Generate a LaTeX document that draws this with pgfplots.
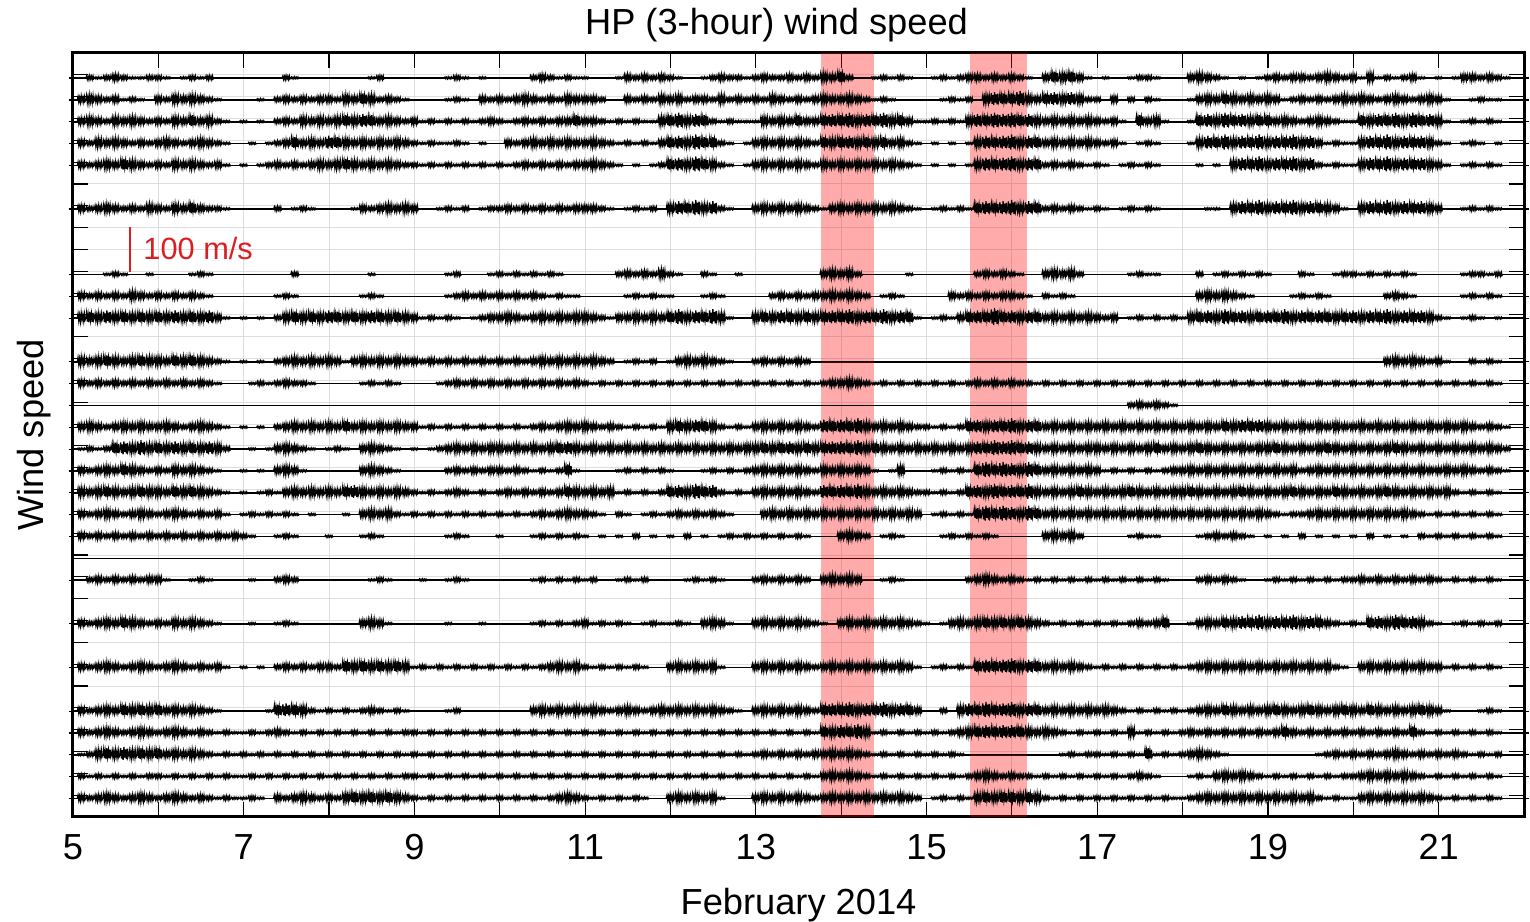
\documentclass[border=0pt]{standalone}
\usepackage{fontspec}
\setmainfont{Liberation Sans}
\usepackage{pgfplots}
\usepackage{pgfplotstable}
\pgfplotsset{compat=1.18}
\usetikzlibrary{calc}
\definecolor{scalered}{RGB}{218,30,36}
\definecolor{gridgray}{RGB}{222,222,222}

% burst amplitude of each trace, one value every 0.1 day from 5.0 to 22.0
\pgfplotstableread[header=false]{
r1 0 0 2 1 2 3 2 1 1 2  2 1 0 1 2 1 2 0 0 0  0 0 0 0 0 2 1 0 0 0  0 0 0 0 0 1 2 0 0 0  0 0 0 0 1 2 1 0 1 0  0 0 0 0 2 3 2 1 2 1  1 0 0 0 1 3 2 3 2 3  2 1 0 0 1 2 3 2 2 1  2 3 2 2 3 2 3 2 4 3  5 2 0 0 1 2 1 2 1 0  0 1 2 1 2 3 3 2 3 2  3 2 1 0 3 5 4 5 3 1  0 1 0 0 1 2 2 1 0 0  0 3 4 3 2 1 0 1 0 1  2 3 2 3 3 2 3 4 3 2  3 1 4 1 2 1 2 3 1 0  1 0 1 3 3 2 3 2 1 0  0
r2 0 3 4 3 2 3 1 2 1 0  3 2 4 3 4 3 2 1 0 0  0 0 1 0 2 3 2 3 2 3  3 2 4 3 5 4 2 3 2 1  0 0 0 0 1 2 1 0 3 2  3 2 3 4 3 2 3 2 4 3  3 3 2 0 0 3 2 3 2 4  3 4 2 3 3 2 4 2 3 2  3 2 4 3 2 3 2 3 4 3  3 4 3 2 1 2 1 0 0 0  0 0 1 2 1 2 0 4 6 5  5 7 4 3 5 6 4 6 4 2  2 0 3 0 2 0 2 1 0 0  0 1 3 4 3 5 4 3 4 3  4 3 1 2 3 2 3 2 3 4  3 4 3 2 3 4 3 2 3 4  3 1 0 0 1 2 1 1 0 0  0
r3 0 3 4 3 2 4 3 4 3 2  3 2 4 3 5 3 4 2 1 0  1 0 1 0 2 3 2 4 3 4  3 4 5 4 6 5 3 4 3 2  3 1 2 1 2 1 2 1 2 3  2 1 2 3 2 3 2 3 3 5  3 3 2 1 2 1 2 1 1 4  5 7 4 6 5 2 1 2 1 1  1 4 3 4 3 5 3 3 5 6  5 7 4 6 5 7 4 5 3 1  1 2 1 2 1 4 6 5 7 6  7 5 6 4 3 4 3 4 3 4  3 2 3 1 0 5 3 4 1 0  0 1 5 6 4 7 5 6 4 5  5 3 4 3 2 3 4 3 2 1  1 5 4 6 5 7 4 7 5 6  4 1 0 1 2 1 2 1 0 0  0
r4 0 3 2 4 3 4 3 2 3 2  3 4 3 2 3 4 3 2 1 0  0 1 0 1 2 3 5 3 4 3  6 5 4 3 4 3 4 3 4 3  2 1 2 1 1 2 1 0 1 0  0 3 2 3 4 3 4 3 4 3  3 4 3 2 1 2 1 2 1 3  5 6 4 7 5 5 2 1 0 1  3 4 3 4 3 4 3 2 5 4  5 6 4 5 4 5 3 4 2 1  0 1 0 1 0 1 4 6 5 6  7 4 6 5 3 4 3 4 3 4  3 2 3 1 0 1 2 1 0 0  0 1 4 6 5 7 4 6 5 7  4 6 5 7 4 6 3 1 2 1  1 4 6 5 7 4 6 5 6 4  2 1 0 1 2 1 0 1 0 0  0
r5 0 3 2 3 4 3 5 4 3 2  3 2 4 3 4 3 2 3 1 0  1 0 1 2 3 2 3 2 3 4  3 4 5 4 3 4 3 4 3 2  2 1 2 1 2 1 2 1 2 1  2 1 2 3 2 3 2 3 2 3  3 4 3 2 1 0 1 0 1 2  5 6 4 7 5 4 2 1 0 1  3 4 3 4 3 4 3 2 4 3  4 3 4 3 4 3 4 3 2 1  0 1 0 1 0 1 4 6 5 6  7 4 6 5 2 3 2 3 2 1  2 1 0 1 2 1 2 1 0 0  0 0 1 0 1 0 4 6 5 7  4 6 5 7 4 6 2 1 2 1  1 4 6 5 7 4 6 5 6 4  3 1 0 1 2 1 2 1 0 0  0
r7 0 3 2 3 4 3 2 3 2 4  3 2 4 3 5 3 2 2 1 0  0 0 0 0 2 0 1 2 1 0  0 0 0 1 3 2 3 4 3 4  3 0 0 1 2 1 2 0 1 2  2 3 2 3 2 3 2 3 2 3  3 3 2 1 0 1 2 1 2 0  4 6 5 7 4 6 2 1 0 0  3 4 3 4 3 4 3 2 1 3  4 3 4 3 4 3 4 3 2 1  0 1 2 1 2 1 5 6 5 6  7 4 6 5 2 3 2 3 2 1  2 1 0 1 2 1 2 1 0 0  0 0 0 1 1 0 4 6 5 7  4 6 5 7 4 6 5 4 3 1  0 4 6 5 7 4 6 5 6 4  3 0 0 1 2 1 2 1 0 0  0
r10 0 0 0 0 1 2 1 0 0 1  0 0 0 0 1 2 1 0 0 0  0 0 0 0 0 0 2 0 0 0  0 0 0 0 0 1 0 0 0 0  0 0 0 0 1 2 0 0 0 1  2 1 2 1 2 1 2 1 0 0  0 0 0 0 2 3 2 3 2 4  2 1 0 0 2 1 0 0 1 0  0 0 0 0 0 0 0 0 3 4  3 4 2 0 0 0 0 0 1 0  0 0 0 0 0 0 2 3 2 3  2 1 0 0 3 4 3 4 2 0  0 0 0 0 1 2 1 1 0 0  0 0 2 0 1 2 1 2 1 2  1 0 0 0 2 1 0 0 1 2  2 1 2 1 2 1 2 1 0 0  0 0 0 1 2 2 1 2 0 0  0
r11 0 3 2 3 2 3 2 4 3 2  3 2 3 2 3 2 1 0 0 0  0 0 0 0 1 2 1 0 0 0  0 0 0 0 1 2 1 0 0 0  0 0 0 0 1 2 3 2 3 2  3 2 3 2 3 2 1 2 1 1  0 0 0 0 0 1 2 1 2 1  1 0 0 0 1 2 1 0 0 0  0 0 2 3 2 3 2 3 3 4  3 4 3 2 0 1 2 1 0 0  0 0 0 3 2 3 2 3 2 3  3 2 1 0 2 1 2 1 0 0  0 0 0 0 0 0 0 0 0 0  0 0 3 4 3 4 3 2 1 0  0 0 0 1 2 1 2 1 0 0  0 0 0 0 2 3 2 1 0 0  0 0 0 1 2 1 2 1 0 0  0
r12 0 4 5 4 6 4 5 4 5 4  5 4 6 4 5 4 6 3 1 0  1 0 1 0 2 4 5 4 5 4  6 5 4 5 4 6 5 4 5 4  3 1 2 1 2 1 0 1 2 3  3 4 3 2 3 4 3 4 3 4  4 3 2 1 3 3 4 3 4 3  5 7 4 6 5 7 4 1 0 0  4 5 4 6 5 4 5 4 5 6  5 7 4 6 5 7 4 6 5 1  0 1 2 1 3 5 6 5 8 5  6 4 6 5 3 4 3 4 3 4  3 2 3 0 1 2 1 2 1 2  1 4 5 6 4 7 5 6 4 5  6 5 7 4 6 5 6 5 4 5  6 4 6 5 7 4 6 5 6 4  2 1 0 1 2 1 0 1 0 0  0
r14 0 4 3 4 5 4 3 4 5 4  4 3 5 4 5 4 3 2 1 0  1 0 1 0 2 3 4 3 4 3  4 3 1 3 4 3 4 3 4 3  3 2 3 2 3 2 3 2 3 2  3 2 3 2 3 4 3 4 3 4  3 4 3 2 0 1 2 1 2 0  1 3 4 3 4 3 2 1 0 0  2 3 2 3 2 3 2 0 0 0  0 0 0 0 0 0 0 0 0 0  0 0 0 0 0 0 0 0 0 0  0 0 0 0 0 0 0 0 0 0  0 0 0 0 0 0 0 0 0 0  0 0 0 0 0 0 0 0 0 0  0 0 0 0 0 0 0 0 0 0  0 0 0 0 3 4 3 4 3 2  3 1 0 0 2 1 2 1 0 0  0
r15 0 3 2 3 2 3 2 3 2 3  2 3 2 3 2 3 2 1 0 0  0 1 2 1 2 3 2 2 1 0  0 0 0 0 1 2 1 2 1 0  0 0 0 1 2 3 2 3 2 3  2 3 2 3 2 3 2 3 2 3  2 1 2 1 2 1 2 1 2 1  2 1 2 1 2 1 2 1 2 1  2 1 2 1 2 1 2 1 2 3  3 4 3 2 1 2 1 2 1 2  1 2 1 2 1 2 3 2 3 2  3 2 2 1 2 1 2 1 2 1  2 1 2 1 2 1 2 1 2 1  2 1 2 1 2 1 2 1 2 1  2 1 2 1 2 1 2 1 2 1  2 1 2 1 2 1 2 1 2 1  2 1 2 1 2 1 2 1 0 0  0
r16 0 0 0 0 0 0 0 0 0 0  0 0 0 0 0 0 0 0 0 0  0 0 0 0 0 0 0 0 0 0  0 0 0 0 0 0 0 0 0 0  0 0 0 0 0 0 0 0 0 0  0 0 0 0 0 0 0 0 0 0  0 0 0 0 0 0 0 0 0 0  0 0 0 0 0 0 0 0 0 0  0 0 0 0 0 0 0 0 0 0  0 0 0 0 0 0 0 0 0 0  0 0 0 0 0 0 0 0 0 0  0 0 0 0 0 0 0 0 0 0  0 0 0 0 2 3 2 3 2 1  0 0 0 0 0 0 0 0 0 0  0 0 0 0 0 0 0 0 0 0  0 0 0 0 0 0 0 0 0 0  0 0 0 0 0 0 0 0 0 0  0
r17 0 3 4 3 2 3 4 3 4 3  3 4 3 2 3 4 3 2 1 0  1 0 1 0 2 3 4 3 4 3  4 3 5 3 4 3 4 3 4 3  3 1 2 1 2 1 2 1 2 1  2 1 2 1 2 3 2 3 4 3  4 3 2 3 2 1 2 1 2 1  4 5 4 6 5 4 2 1 2 1  3 4 3 4 3 4 3 2 6 5  6 5 7 4 3 4 3 4 3 2  2 1 2 1 2 5 6 4 6 5  7 4 6 5 3 4 3 4 3 4  3 4 3 4 3 4 3 4 3 4  3 4 3 4 3 5 4 6 5 6  4 3 4 3 4 3 4 3 4 3  3 4 3 4 3 4 3 4 3 4  3 4 3 4 3 2 3 2 1 0  0
r18 0 1 2 1 2 5 6 4 7 4  5 4 6 4 5 4 6 4 2 0  0 1 0 1 3 4 3 2 1 0  1 2 1 0 3 4 3 2 1 0  1 0 1 2 3 4 3 4 3 4  4 3 4 3 4 3 4 5 6 4  3 4 3 4 3 4 3 4 3 4  3 4 3 4 3 4 3 4 3 4  4 5 4 5 6 4 5 4 5 6  6 5 7 4 5 4 3 4 3 4  3 4 3 4 3 4 6 5 7 6  7 5 6 4 3 4 3 4 3 4  4 3 4 3 4 3 4 5 3 4  3 4 5 4 3 4 3 4 3 4  4 5 4 3 4 3 4 5 4 3  4 3 4 3 4 5 4 3 4 3  4 3 4 3 4 3 4 3 2 0  0
r19 0 3 2 3 4 3 5 4 3 2  3 2 4 3 4 3 2 1 0 0  1 0 1 0 3 4 3 1 0 0  0 0 0 0 3 4 3 2 1 0  0 0 0 0 2 3 2 3 2 3  3 2 3 2 1 2 1 2 5 1  0 0 0 0 1 2 1 2 1 2  1 0 0 0 1 2 1 2 1 2  3 4 3 4 3 4 3 2 4 3  4 3 4 3 1 0 1 4 0 0  0 1 2 1 2 1 5 7 5 7  6 4 7 5 3 4 3 4 3 4  3 1 2 1 2 1 2 1 2 3  3 4 3 4 3 4 3 4 3 4  3 4 3 4 2 3 4 3 4 3  4 3 4 3 4 3 4 3 4 3  3 4 3 4 3 2 3 2 1 0  0
r20 0 4 3 4 5 4 3 4 5 4  4 3 5 4 5 4 3 2 1 0  1 0 1 2 1 3 4 3 4 3  4 3 5 6 4 3 4 3 4 3  2 1 2 1 2 3 2 1 2 1  2 3 2 3 2 3 2 3 5 4  3 4 3 4 1 2 1 2 1 2  5 6 4 7 5 6 2 1 2 1  3 4 3 4 3 4 3 2 6 5  6 5 7 4 3 4 3 4 3 2  2 1 2 1 2 5 6 4 7 5  6 5 7 4 3 4 3 4 5 4  3 4 3 4 5 4 3 4 3 4  4 5 4 3 4 3 4 5 4 3  4 3 4 5 4 3 4 3 5 4  3 4 3 4 5 4 3 4 3 4  3 4 2 1 2 1 2 1 0 0  0
r21 0 3 2 3 4 3 2 3 4 3  2 3 4 3 2 3 2 3 1 0  1 2 1 2 1 2 1 0 1 0  0 0 1 0 3 4 3 4 2 1  2 1 2 1 2 1 2 1 2 1  2 1 2 1 2 3 2 3 4 3  3 2 1 0 2 1 0 1 2 1  2 3 2 3 2 3 2 1 0 0  0 3 4 3 4 3 4 3 4 3  4 3 4 3 4 3 4 3 4 3  0 1 2 1 2 1 5 7 5 7  6 4 7 5 3 4 3 4 3 4  3 4 3 4 3 4 3 4 3 4  3 4 3 4 3 4 3 4 3 4  3 2 1 2 2 3 4 3 4 3  4 3 4 3 4 3 4 3 2 1  2 1 2 1 2 1 2 1 0 0  0
r22 0 3 2 3 2 3 2 3 2 3  2 3 2 3 2 3 2 3 2 3  2 1 0 0 1 2 1 0 0 0  1 0 0 0 1 2 1 0 0 0  0 0 0 0 1 2 1 0 0 0  1 0 0 0 1 2 1 2 1 2  1 0 1 0 1 0 2 0 1 0  1 0 2 0 1 0 1 2 1 2  1 2 1 2 1 2 1 0 0 0  3 4 3 2 0 1 2 1 0 0  0 0 1 2 1 2 1 2 1 0  0 0 0 0 3 4 3 4 2 0  0 0 0 0 1 2 1 1 0 0  0 0 1 2 3 2 3 2 1 0  1 0 1 0 2 0 1 0 1 0  1 0 2 0 1 0 1 0 2 1  2 1 2 1 2 1 2 1 0 0  0
r24 0 0 2 3 2 3 2 3 2 3  3 1 0 0 1 2 1 0 0 0  0 1 0 0 2 3 2 0 0 0  0 0 0 0 0 1 2 1 0 0  0 1 0 0 1 2 1 0 0 0  0 0 0 0 1 2 1 2 1 2  1 2 0 0 1 2 1 2 0 0  0 0 1 2 1 2 1 0 0 0  2 3 2 3 2 3 2 0 3 4  3 4 3 0 0 1 2 1 0 0  0 0 0 0 0 2 3 4 3 2  3 2 1 2 1 2 1 2 1 2  1 2 1 2 1 2 1 2 1 0  0 0 2 3 2 3 2 1 0 0  1 2 1 2 1 2 1 2 1 2  2 3 2 3 2 3 2 3 2 3  2 1 2 1 2 1 2 1 0 0  0
r26 0 3 2 3 4 3 5 4 3 2  3 2 4 3 4 3 2 1 0 0  0 1 0 0 1 2 1 0 0 0  0 0 0 0 3 4 3 1 0 0  0 0 0 0 1 0 0 0 1 0  0 0 0 0 1 2 1 2 1 2  3 1 2 1 2 1 0 1 2 1  1 2 1 0 3 4 3 1 0 0  3 4 3 4 3 4 3 2 1 0  3 4 3 4 3 4 3 4 3 2  1 0 1 3 4 3 4 5 4 5  4 5 4 3 2 1 2 1 2 1  2 1 2 1 2 3 2 3 5 0  0 1 3 4 3 5 4 6 5 7  4 6 5 7 4 6 5 3 2 1  2 1 5 6 4 7 5 6 4 2  1 0 1 2 1 2 1 2 0 0  0
r28 0 3 2 3 4 3 2 3 4 3  2 3 4 3 2 3 2 3 1 0  1 0 1 0 2 3 2 3 2 3  3 2 5 4 5 4 5 4 5 4  1 2 1 2 1 2 1 2 1 2  1 2 1 2 1 2 3 4 3 4  2 1 2 1 2 1 2 1 0 0  3 4 3 4 3 4 1 0 0 0  3 4 3 4 3 4 3 2 3 4  3 4 3 4 3 4 3 4 3 1  0 1 2 1 2 1 5 6 5 6  7 4 6 5 3 4 3 4 3 2  1 2 1 2 1 2 1 2 1 2  1 2 3 4 3 4 3 4 3 4  3 4 3 4 3 4 3 4 2 1  0 3 4 3 4 3 4 3 4 3  3 1 2 1 2 1 2 1 0 0  0
r30 0 3 2 3 4 3 5 4 5 4  5 3 4 3 4 3 2 1 0 0  0 0 0 1 5 6 5 4 2 1  2 1 2 1 2 3 2 1 2 1  0 0 0 0 1 2 0 0 0 0  0 0 0 0 3 4 3 4 3 4  3 4 3 2 3 4 3 2 3 4  3 4 3 4 3 4 3 2 1 0  3 4 3 4 3 4 3 2 5 6  5 7 4 6 5 7 4 6 5 3  0 0 2 0 4 6 5 7 5 6  7 4 6 5 3 4 3 4 3 4  3 4 3 2 1 2 1 2 1 2  1 2 3 4 3 5 4 3 4 3  4 5 4 3 4 5 4 3 4 5  4 3 5 4 3 4 3 4 5 4  3 1 0 0 0 1 2 1 0 0  0
r31 0 3 2 3 4 3 2 3 4 3  2 3 4 3 2 3 2 1 2 1  1 2 1 2 3 2 1 2 1 2  1 2 1 2 1 2 1 2 1 2  2 1 2 1 2 1 2 1 2 1  2 1 2 1 2 1 2 1 2 1  2 1 2 1 2 1 2 1 2 1  2 1 2 1 2 1 2 1 2 1  2 1 2 1 2 1 2 1 5 4  6 5 7 4 1 2 1 2 1 2  1 2 1 2 3 4 5 6 5 6  6 5 4 3 4 3 2 1 2 1  2 1 2 1 4 1 2 1 2 1  2 3 2 3 2 3 2 3 2 3  2 3 5 3 2 3 2 3 2 3  2 3 2 3 2 3 2 5 2 1  2 1 2 1 2 1 2 1 0 0  0
r32 0 1 2 4 5 4 6 4 5 4  5 3 4 3 4 3 2 1 2 1  2 1 2 1 2 1 2 1 2 1  2 1 2 1 2 1 2 1 2 1  2 1 2 1 2 1 2 1 2 1  2 1 2 1 2 1 2 1 2 1  2 1 2 1 2 1 2 1 2 1  2 1 2 1 2 1 2 1 2 1  2 3 2 3 2 3 2 3 3 4  3 4 3 2 1 2 1 2 1 2  1 2 1 2 1 0 0 0 0 0  0 0 0 0 0 0 1 2 1 2  2 1 2 1 2 1 5 1 2 1  2 3 4 3 2 1 0 0 0 0  0 0 0 0 0 0 1 2 3 2  3 2 3 2 3 4 3 2 3 2  3 2 3 2 1 2 1 2 0 0  0
r33 0 2 1 2 1 2 1 2 1 2  2 1 2 1 2 1 2 1 2 1  1 2 1 2 1 2 1 2 1 2  1 2 1 2 1 2 1 2 1 2  2 1 2 1 2 1 2 1 2 1  2 1 2 1 2 1 2 1 2 1  2 1 2 1 2 1 2 1 2 1  2 1 2 1 2 1 2 1 2 1  2 1 2 1 2 1 2 1 3 4  3 4 3 2 1 2 1 2 1 2  1 2 1 2 1 2 3 4 3 2  3 2 2 1 2 1 2 1 2 1  2 1 2 1 2 3 2 1 0 0  0 1 2 1 3 4 3 4 3 2  1 2 1 2 1 2 1 2 1 2  2 3 4 3 4 3 4 3 2 1  2 1 2 1 2 1 2 1 0 0  0
r34 0 3 2 3 4 3 2 3 4 3  2 3 4 3 2 3 2 1 2 1  1 2 1 0 3 2 3 4 3 2  3 2 4 5 4 5 4 5 4 3  2 1 2 1 2 1 2 1 2 1  2 1 2 1 2 1 2 3 4 3  2 1 2 1 2 1 2 1 0 0  3 4 3 4 3 4 1 0 0 0  3 4 3 4 3 4 3 2 3 4  3 4 3 4 3 4 3 4 3 2  0 1 2 1 2 1 4 5 4 5  5 4 5 4 2 1 2 1 2 1  2 1 2 1 2 1 2 1 2 1  1 2 3 4 3 4 3 4 3 4  3 4 3 4 3 4 2 1 2 1  1 3 4 3 4 3 4 3 4 3  2 1 2 1 2 1 2 1 0 0  0
}\raw
\pgfplotstabletranspose[colnames from=0]{\wind}{\raw}

% a short burst of wiggles, one bin (0.1 day) wide, its height set by the bin's amplitude
\pgfdeclareplotmark{burst}{%
  \pgfpathmoveto{\pgfqpoint{-1.707pt}{0pt}}%
  \pgfpathlineto{\pgfqpoint{-1.40pt}{0.85\pgfplotmarksize}}%
  \pgfpathlineto{\pgfqpoint{-1.10pt}{-0.50\pgfplotmarksize}}%
  \pgfpathlineto{\pgfqpoint{-0.78pt}{0.60\pgfplotmarksize}}%
  \pgfpathlineto{\pgfqpoint{-0.45pt}{-0.65\pgfplotmarksize}}%
  \pgfpathlineto{\pgfqpoint{-0.12pt}{1.00\pgfplotmarksize}}%
  \pgfpathlineto{\pgfqpoint{0.22pt}{-0.35\pgfplotmarksize}}%
  \pgfpathlineto{\pgfqpoint{0.55pt}{0.70\pgfplotmarksize}}%
  \pgfpathlineto{\pgfqpoint{0.88pt}{-0.55\pgfplotmarksize}}%
  \pgfpathlineto{\pgfqpoint{1.20pt}{0.80\pgfplotmarksize}}%
  \pgfpathlineto{\pgfqpoint{1.45pt}{-0.30\pgfplotmarksize}}%
  \pgfpathlineto{\pgfqpoint{1.707pt}{0pt}}%
  \pgfusepathqstroke
}

\newcommand{\trace}[2]{%
  \addplot[black, line width=0.6pt, scatter, mark=burst,
    scatter/use mapped color={draw=black},
    mark options={line width=0.5pt, solid},
    visualization depends on={0.52*\thisrow{#1} \as \amp},
    scatter/@pre marker code/.append style={/tikz/mark size=\amp}]
    table[x expr={5+0.1*\coordindex}, y expr={#2}] {\wind};
}

\begin{document}
\begin{tikzpicture}
\begin{axis}[
  name=ax,
  width=580.4pt, height=305.6pt, scale only axis,
  xmin=5, xmax=22, ymin=0, ymax=35,
  xtick={5,7,...,21}, minor xtick={6,8,...,20},
  ytick={1,...,34}, yticklabels={},
  grid=both,
  major grid style={gridgray, line width=0.4pt},
  minor grid style={gridgray, line width=0.4pt},
  tick align=inside, tick pos=both,
  major tick length=6pt, minor tick length=6pt,
  tick style={black, line width=0.45pt},
  axis line style={line width=1.2pt},
  xticklabel style={font=\fontsize{14.5}{17}\selectfont, yshift=-3.4pt},
  /pgf/number format/assume math mode=true,
]
\trace{r1}{33.85}
\trace{r2}{32.85}
\trace{r3}{31.85}
\trace{r4}{30.85}
\trace{r5}{29.85}
\trace{r7}{27.85}
\trace{r10}{24.85}
\trace{r11}{23.85}
\trace{r12}{22.85}
\trace{r14}{20.85}
\trace{r15}{19.85}
\trace{r16}{18.85}
\trace{r17}{17.85}
\trace{r18}{16.85}
\trace{r19}{15.85}
\trace{r20}{14.85}
\trace{r21}{13.85}
\trace{r22}{12.85}
\addplot[black, line width=0.6pt] coordinates {(5,11.85) (22,11.85)};
\trace{r24}{10.85}
\trace{r26}{8.85}
\trace{r28}{6.85}
\trace{r30}{4.85}
\trace{r31}{3.85}
\trace{r32}{2.85}
\trace{r33}{1.85}
\trace{r34}{0.85}
% highlighted intervals
\addplot[draw=none, fill=red, fill opacity=0.33] coordinates {(13.76,0) (14.385,0) (14.385,35) (13.76,35)};
\addplot[draw=none, fill=red, fill opacity=0.33] coordinates {(15.51,0) (16.18,0) (16.18,35) (15.51,35)};
% scale bar
\addplot[draw=scalered, line width=0.8pt] coordinates {(5.668,24.95) (5.668,27.03)};
\node[anchor=base west, inner sep=0pt, text=scalered, font=\fontsize{12.3}{14}\selectfont] at (axis cs:5.82,25.52) {100 m/s};
\end{axis}
\node[anchor=base, font=\fontsize{14.5}{17}\selectfont] at ($(ax.north)+(-8.8pt,7.2pt)$) {HP (3-hour) wind speed};
\node[anchor=base, font=\fontsize{14.5}{17}\selectfont] at ($(ax.south)+(0,-38.8pt)$) {February 2014};
\node[anchor=base, rotate=90, font=\fontsize{14.5}{17}\selectfont] at ($(ax.west)+(-12pt,0)$) {Wind speed};
\pgfresetboundingbox
\path[use as bounding box] ($(ax.south west)+(-29.2pt,-42pt)$) rectangle ($(ax.north east)+(2.4pt,21.2pt)$);
\end{tikzpicture}
\end{document}
